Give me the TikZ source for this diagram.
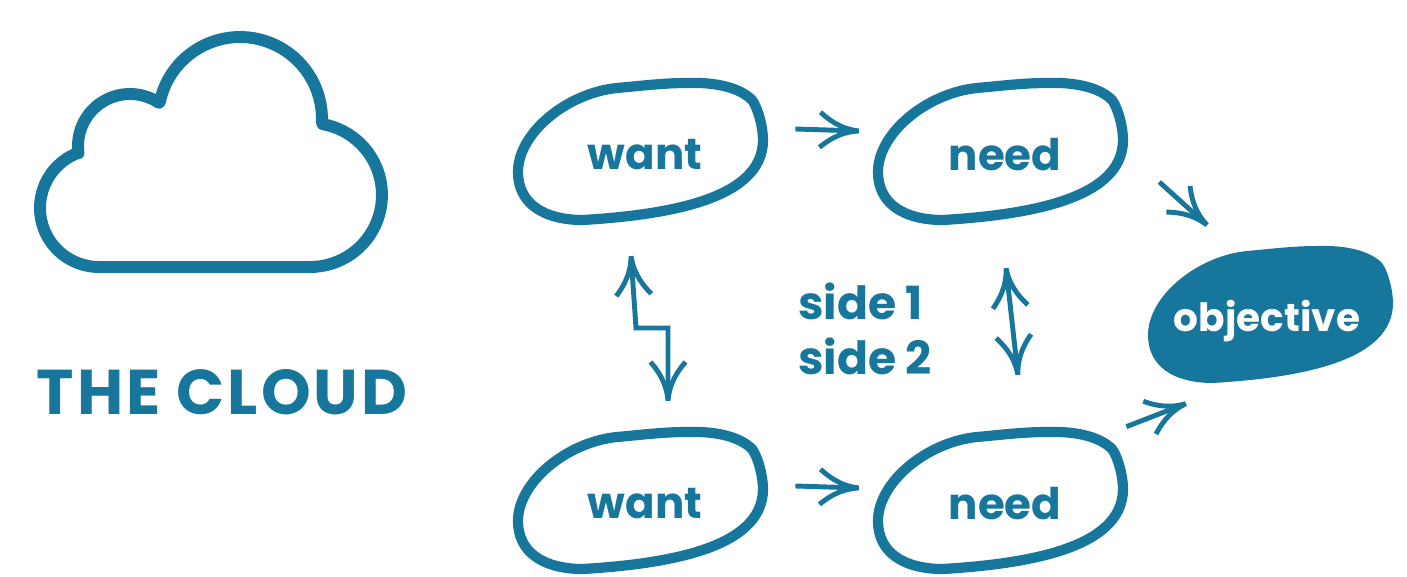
\documentclass[tikz,border=0pt]{standalone}
\usepackage{fontspec}
\setmainfont{Poppins}
\usetikzlibrary{arrows.meta}
\definecolor{cloudblue}{HTML}{17769B}
% Open head with two long, slightly curved barbs
\pgfdeclarearrow{
  name=Barbs,
  setup code={\pgfarrowssettipend{0.6pt}\pgfarrowssetlineend{-2pt}\pgfarrowssetbackend{-22pt}},
  drawing code={
    \pgfsetdash{}{0pt}\pgfsetbuttcap\pgfsetbeveljoin\pgfsetlinewidth{2.8pt}
    \pgfpathmoveto{\pgfqpoint{-22pt}{10pt}}
    \pgfpathcurveto{\pgfqpoint{-14pt}{3pt}}{\pgfqpoint{-7pt}{0.6pt}}{\pgfqpoint{0pt}{0pt}}
    \pgfpathcurveto{\pgfqpoint{-7pt}{-0.6pt}}{\pgfqpoint{-14pt}{-3pt}}{\pgfqpoint{-22pt}{-10pt}}
    \pgfusepathqstroke
  },
  defaults={}
}
\tikzset{
  blob/.pic={\path[pic actions] (42,-72) .. controls (72,-73) and (95,-67) .. (107,-55) .. controls (113,-47) and (118,-28) .. (118,-15) .. controls (118,45) and (20,60) .. (-62,65) .. controls (-102,65) and (-127,48) .. (-127,17) .. controls (-127,-22) and (-78,-62) .. (-28,-67) .. controls (-5,-69) and (18,-72) .. (42,-72) -- cycle;},
  blobline/.style={draw=cloudblue,line width=5.8pt},
  blobtext/.style={minimum width=5.04cm,minimum height=2.88cm,inner sep=0pt,text=cloudblue,font=\fontsize{24.8}{24.8}\selectfont\bfseries},
  link/.style={draw=cloudblue,line width=2.8pt,-{Barbs}},
  twolink/.style={draw=cloudblue,line width=2.8pt,{Barbs}-{Barbs}},
}
\begin{document}
\begin{tikzpicture}[x=0.02cm,y=-0.02cm]
\useasboundingbox (0,0) rectangle (1407,577);
% Outline of the cloud, four arcs
\draw[draw=cloudblue,line width=6.8pt,line join=round]
  plot[domain=90:249,samples=40] ({99+59*cos(\x)},{208+59*sin(\x)})
  -- plot[domain=172:304,samples=40] ({130+52*cos(\x)},{146+52*sin(\x)})
  -- plot[domain=192:362,samples=40] ({240+82*cos(\x)},{119+82*sin(\x)})
  -- plot[domain=280:450,samples=40] ({310+72*cos(\x)},{195+72*sin(\x)})
  -- cycle;
\node[text=cloudblue,font=\addfontfeatures{LetterSpace=4.6}\fontsize{36}{36}\selectfont\bfseries,inner sep=0pt] (title) at (222,392) {THE CLOUD};
\foreach \n/\t/\x/\y in {want1/want/645/155,need1/need/1005/155,want2/want/645/504,need2/need/1005/504} {
  \pic[blobline] at (\x,\y) {blob};
  \node[blobtext] (\n) at (\x,\y) {\t};
}
\pic[fill=cloudblue] at (1275,318) {blob};
\node[blobtext,text=white,font=\fontsize{22.2}{22.2}\selectfont\bfseries] (objective) at (1267,321) {objective};
\node[text=cloudblue,font=\fontsize{26}{31}\selectfont\bfseries,align=left,inner sep=0pt] (sides) at (865,329) {side 1\\side 2};
\coordinate (zigA) at (636,328);
\coordinate (zigB) at (668,328);
\draw[link] ([shift={(24,-26)}]want1.east) -- ([shift={(-19,-24)}]need1.west);
\draw[link] ([shift={(24,-18)}]want2.east) -- ([shift={(-19,-16)}]need2.west);
\draw[link] ([shift={(28,27)}]need1.east) -- ([shift={(67,-23)}]objective.north west);
\draw[link] ([shift={(-5,-5)}]need2.north east) -- ([shift={(46,10)}]objective.south west);
\draw[twolink] ([shift={(-14,28)}]want1.south) -- (zigA) -- (zigB) -- ([shift={(23,-30)}]want2.north);
\draw[twolink] ([shift={(1,40)}]need1.south) -- ([shift={(13,-56)}]need2.north);
\end{tikzpicture}
\end{document}
